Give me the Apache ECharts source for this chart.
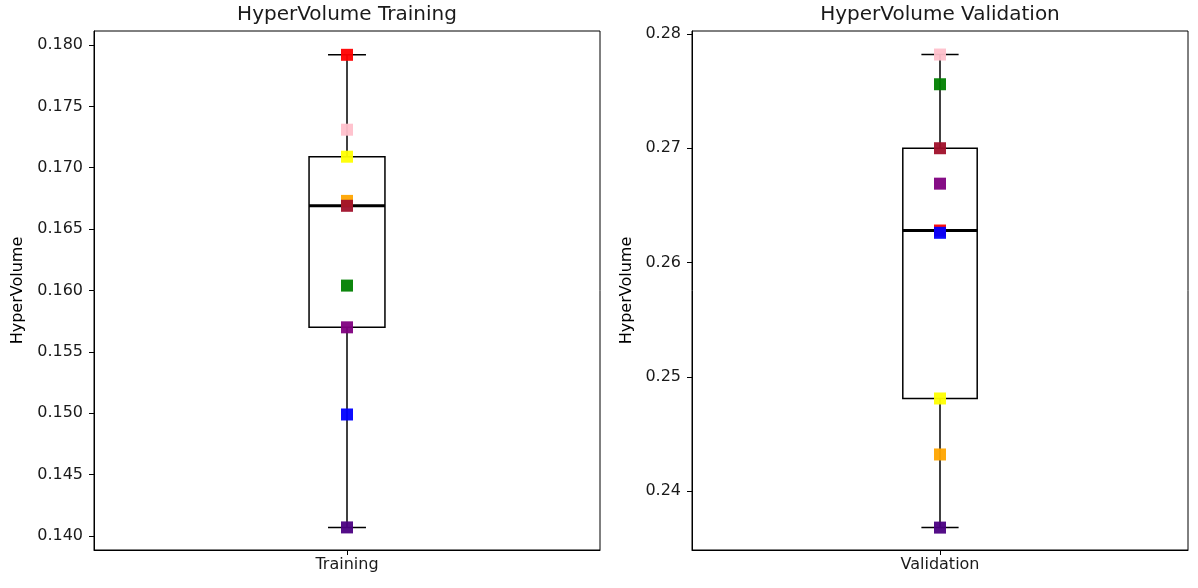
<!DOCTYPE html>
<html>
<head>
<meta charset="utf-8">
<script src="https://cdn.jsdelivr.net/npm/echarts@6/dist/echarts.min.js"></script>
<style>
  html, body { margin: 0; padding: 0; background: #ffffff; }
  #chart { width: 1198px; height: 588px; }
</style>
</head>
<body>
<div id="chart"></div>
<script>
// HyperVolume per run, one marker colour per run
const markerColors = ['#ff0000', '#ffc0cb', '#ffff00', '#ffa500', '#a0102a', '#008000', '#800080', '#0000ff', '#4b0082'];
const trainingValues = [0.1792, 0.1731, 0.1709, 0.1673, 0.1669, 0.1604, 0.1570, 0.1499, 0.1407];
const validationValues = [0.2782, 0.2756, 0.2700, 0.2669, 0.2628, 0.2626, 0.2481, 0.2432, 0.2368];
const validationColors = ['#ffc0cb', '#008000', '#a0102a', '#800080', '#ff0000', '#0000ff', '#ffff00', '#ffa500', '#4b0082'];

const trainingTicks = ['0.140', '0.145', '0.150', '0.155', '0.160', '0.165', '0.170', '0.175', '0.180'];
const validationTicks = ['0.24', '0.25', '0.26', '0.27', '0.28'];

const FONT = 'DejaVu Sans';
const LABEL_SIZE = 16;

// Linear-interpolated quantile (same rule as numpy's default)
function quantile(sorted, p) {
  const pos = (sorted.length - 1) * p;
  const lo = Math.floor(pos), hi = Math.ceil(pos);
  return sorted[lo] + (sorted[hi] - sorted[lo]) * (pos - lo);
}

// Box statistics with 1.5*IQR whiskers clipped to the data
function boxStats(values) {
  const s = values.slice().sort((a, b) => a - b);
  const q1 = quantile(s, 0.25), med = quantile(s, 0.5), q3 = quantile(s, 0.75);
  const iqr = q3 - q1;
  const lowLim = q1 - 1.5 * iqr, highLim = q3 + 1.5 * iqr;
  const lo = s.find(v => v >= lowLim);
  const hi = s.slice().reverse().find(v => v <= highLim);
  return [0, lo, q1, med, q3, hi];
}

function renderBox(params, api) {
  const band = api.size([1, 0])[0];
  const half = band * 0.075;
  const capHalf = half * 0.5;
  const x = api.coord([0, api.value(3)])[0];
  const yLo = api.coord([0, api.value(1)])[1];
  const yQ1 = api.coord([0, api.value(2)])[1];
  const yMed = api.coord([0, api.value(3)])[1];
  const yQ3 = api.coord([0, api.value(4)])[1];
  const yHi = api.coord([0, api.value(5)])[1];
  const line = { stroke: '#000', lineWidth: 1.5, fill: null };
  return {
    type: 'group',
    children: [
      { type: 'line', shape: { x1: x, y1: yQ1, x2: x, y2: yLo }, style: line },
      { type: 'line', shape: { x1: x, y1: yQ3, x2: x, y2: yHi }, style: line },
      { type: 'line', shape: { x1: x - capHalf, y1: yLo, x2: x + capHalf, y2: yLo }, style: line },
      { type: 'line', shape: { x1: x - capHalf, y1: yHi, x2: x + capHalf, y2: yHi }, style: line },
      { type: 'rect', shape: { x: x - half, y: yQ3, width: 2 * half, height: yQ1 - yQ3 }, style: { stroke: '#000', lineWidth: 1.5, fill: 'rgba(0,0,0,0)' } },
      { type: 'line', shape: { x1: x - half, y1: yMed, x2: x + half, y2: yMed }, style: { stroke: '#000', lineWidth: 3 } }
    ]
  };
}

function yAxisFor(gridIndex, min, max, ticks, nameGap) {
  const vals = ticks.map(Number);
  return {
    gridIndex, type: 'value', min, max,
    name: 'HyperVolume', nameLocation: 'middle', nameGap,
    nameTextStyle: { fontFamily: FONT, fontSize: LABEL_SIZE, color: '#000' },
    axisLine: { show: true, lineStyle: { color: '#000', width: 1 } },
    axisTick: { show: true, length: 5, lineStyle: { color: '#000' }, customValues: vals },
    axisLabel: {
      fontFamily: FONT, fontSize: LABEL_SIZE, color: '#1a1a1a', margin: 11,
      customValues: vals,
      formatter: v => ticks[vals.findIndex(t => Math.abs(t - v) < 1e-9)]
    },
    splitLine: { show: false }
  };
}

function xAxisFor(gridIndex, label) {
  return {
    gridIndex, type: 'category', data: [label], boundaryGap: true,
    axisLine: { show: true, lineStyle: { color: '#000' } },
    axisTick: { show: true, alignWithLabel: true, length: 5, lineStyle: { color: '#000' } },
    axisLabel: { fontFamily: FONT, fontSize: LABEL_SIZE, color: '#1a1a1a', margin: 7 }
  };
}

function pointSeries(axisIndex, values, colors) {
  return values.map((v, i) => ({
    type: 'scatter', xAxisIndex: axisIndex, yAxisIndex: axisIndex,
    symbol: 'rect', symbolSize: 12, z: 5 + i,
    itemStyle: { color: colors[i], opacity: 0.95 },
    data: [[0, v]]
  }));
}

const chart = echarts.init(document.getElementById('chart'), null, { renderer: 'canvas' });
chart.setOption({
  animation: false,
  backgroundColor: '#ffffff',
  grid: [
    { left: 94, right: 598, top: 31, bottom: 38, show: true, borderColor: '#000', borderWidth: 1, containLabel: false },
    { left: 692, right: 10, top: 31, bottom: 38, show: true, borderColor: '#000', borderWidth: 1, containLabel: false }
  ],
  graphic: [
    { type: 'text', x: 347, y: 15, style: { text: 'HyperVolume Training', font: '20px "DejaVu Sans"', fill: '#1a1a1a', textAlign: 'center', textVerticalAlign: 'middle' } },
    { type: 'text', x: 940, y: 15, style: { text: 'HyperVolume Validation', font: '20px "DejaVu Sans"', fill: '#1a1a1a', textAlign: 'center', textVerticalAlign: 'middle' } }
  ],
  xAxis: [xAxisFor(0, 'Training'), xAxisFor(1, 'Validation')],
  yAxis: [
    yAxisFor(0, 0.13886, 0.18114, trainingTicks, 68),
    yAxisFor(1, 0.23484, 0.28026, validationTicks, 57)
  ],
  series: [
    { type: 'custom', xAxisIndex: 0, yAxisIndex: 0, z: 2, renderItem: renderBox,
      encode: { x: 0, y: [1, 2, 3, 4, 5] }, data: [boxStats(trainingValues)] },
    { type: 'custom', xAxisIndex: 1, yAxisIndex: 1, z: 2, renderItem: renderBox,
      encode: { x: 0, y: [1, 2, 3, 4, 5] }, data: [boxStats(validationValues)] },
    ...pointSeries(0, trainingValues, markerColors),
    ...pointSeries(1, validationValues, validationColors)
  ]
});
</script>
</body>
</html>
